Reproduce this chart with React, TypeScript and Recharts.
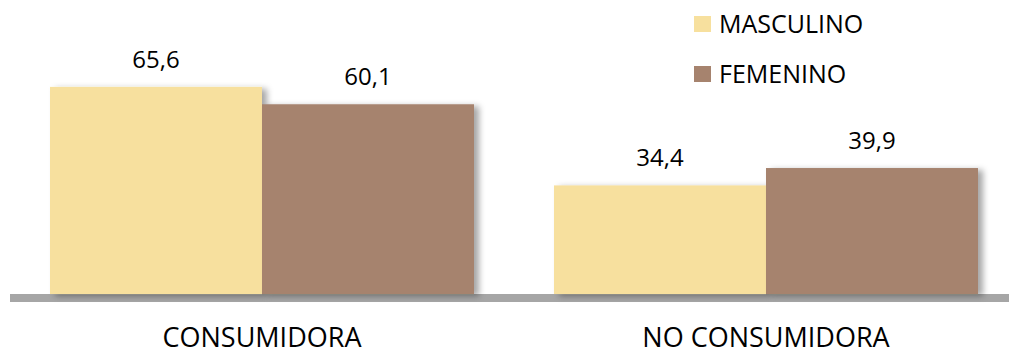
import React from 'react';
import { BarChart, Bar, XAxis, YAxis, LabelList, ReferenceArea } from 'recharts';

const categories = ['CONSUMIDORA', 'NO CONSUMIDORA'];
const masculino = [65.6, 34.4];
const femenino = [60.1, 39.9];
const seriesNames = ['MASCULINO', 'FEMENINO'];
const seriesColors = ['#F7E09E', '#A6836E'];

const data = categories.map((c, i) => ({ name: c, masculino: masculino[i], femenino: femenino[i] }));

const FONT = '"Open Sans", "Noto Sans", sans-serif';

const fmt = (v: any) => String(v).replace('.', ',');

const ShadowRect = (props: any) => {
  const { x, y, width, height, fill } = props;
  return <rect x={x} y={y} width={width} height={height} fill={fill} filter="url(#barShadow)" />;
};

const LegendBox = () => (
  <div style={{ position: 'absolute', left: 694, top: 0, fontFamily: FONT }}>
    {seriesNames.map((n, i) => (
      <div key={n} style={{ position: 'absolute', left: 0, top: i * 50, width: 300, height: 48 }}>
        <div style={{ position: 'absolute', left: 0, top: 16, width: 17, height: 16, background: seriesColors[i] }} />
        <span style={{ position: 'absolute', left: 25, top: 6, fontSize: 25, color: '#000', lineHeight: '34px', whiteSpace: 'nowrap' }}>{n}</span>
      </div>
    ))}
  </div>
);

export default function App() {
  return (
    <div style={{ position: 'absolute', left: 0, top: 0, width: 1009, height: 351, overflow: 'hidden', background: '#fff' }}>
      <svg width={0} height={0} style={{ position: 'absolute' }}>
        <defs>
          <filter id="barShadow" x="-10%" y="-10%" width="130%" height="130%">
            <feDropShadow dx={5} dy={2} stdDeviation={3} floodColor="#000" floodOpacity={0.35} />
          </filter>
        </defs>
      </svg>
      <BarChart
        width={1018}
        height={351}
        data={data}
        margin={{ top: 73, right: 0, bottom: 0, left: 10 }}
        barCategoryGap={40}
        barGap={0}
      >
        <YAxis hide domain={[-2.53, 70]} />
        <XAxis
          dataKey="name"
          axisLine={false}
          tickLine={false}
          tickSize={0}
          tickMargin={26}
          height={49}
          tick={{ fontSize: 27, fill: '#000', fontFamily: FONT }}
        />
        <ReferenceArea y1={-2.53} y2={0} fill="#A6A6A6" fillOpacity={1} stroke="none" ifOverflow="visible" />
        <Bar dataKey="masculino" name={seriesNames[0]} fill={seriesColors[0]} isAnimationActive={false} shape={ShadowRect}>
          <LabelList dataKey="masculino" position="top" offset={19} formatter={fmt} style={{ fontSize: 24, fill: '#000', fontFamily: FONT }} />
        </Bar>
        <Bar dataKey="femenino" name={seriesNames[1]} fill={seriesColors[1]} isAnimationActive={false} shape={ShadowRect}>
          <LabelList dataKey="femenino" position="top" offset={19} formatter={fmt} style={{ fontSize: 24, fill: '#000', fontFamily: FONT }} />
        </Bar>
      </BarChart>
      <LegendBox />
    </div>
  );
}
